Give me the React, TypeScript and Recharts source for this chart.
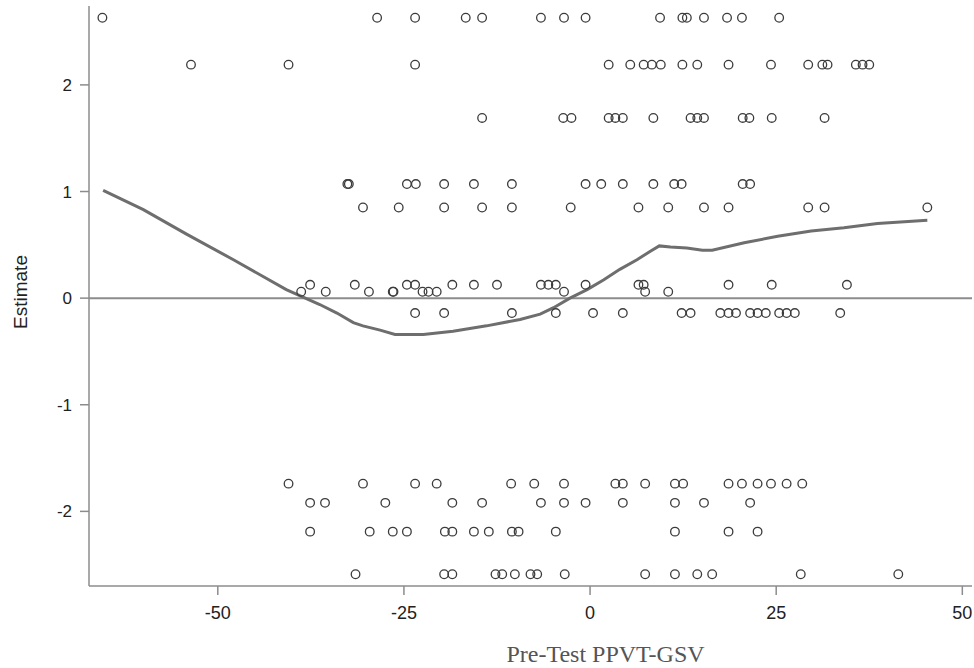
import { ReferenceLine, Scatter, ScatterChart, XAxis, YAxis } from 'recharts'

// y level of each row of points, and the x positions found on that row
const rowLevels = [2.63, 2.19, 1.69, 1.07, 0.85, 0.125, 0.06, -0.14, -1.74, -1.92, -2.19, -2.59]

const rowA = [-65.5, -28.6, -23.5, -16.7, -14.5, -6.6, -3.5, -0.6, 9.4, 12.4, 13.0, 15.3, 18.4, 20.4, 25.4]
const rowB = [-53.6, -40.5, -23.5, 2.5, 5.4, 7.2, 8.3, 9.5, 12.4, 14.4, 18.6, 24.3, 29.3, 31.2, 31.9, 35.7, 36.6, 37.5]
const rowC = [-14.5, -3.6, -2.5, 2.5, 3.4, 4.4, 8.5, 13.5, 14.4, 15.3, 20.5, 21.4, 24.4, 31.5]
const rowD = [-32.6, -32.4, -24.6, -23.4, -19.6, -15.6, -10.5, -0.6, 1.5, 4.4, 8.5, 11.3, 12.3, 20.5, 21.5]
const rowE = [-30.5, -25.7, -19.6, -14.5, -10.5, -2.6, 6.5, 10.5, 15.3, 18.6, 29.3, 31.5, 45.3]
const rowF = [-37.6, -31.6, -24.6, -23.5, -18.5, -15.6, -12.5, -6.6, -5.6, -4.6, -0.6, 6.5, 7.2, 18.6, 24.4, 34.5]
const rowG = [-38.8, -35.5, -29.7, -26.5, -26.4, -22.5, -21.7, -20.6, -3.5, 7.4, 10.5]
const rowH = [-23.5, -19.6, -10.5, -4.6, 0.4, 4.4, 12.3, 13.5, 17.5, 18.6, 19.6, 21.5, 22.5, 23.6, 25.4, 26.4, 27.5, 33.6]
const rowI = [-40.5, -30.5, -23.5, -20.6, -10.6, -7.5, -3.5, 3.4, 4.4, 7.4, 11.4, 12.5, 18.6, 20.4, 22.5, 24.3, 26.4, 28.5]
const rowJ = [-37.6, -35.6, -27.5, -18.5, -14.5, -6.6, -3.5, -0.6, 4.4, 11.4, 15.3, 21.5]
const rowK = [-37.6, -29.6, -26.5, -24.6, -19.5, -18.5, -15.6, -13.6, -10.5, -9.6, -4.6, 11.4, 18.6, 22.5]
const rowL = [-31.5, -19.6, -18.5, -12.7, -11.8, -10.1, -8.0, -7.1, -3.4, 7.4, 11.4, 14.4, 16.4, 28.3, 41.4]

const rows = [rowA, rowB, rowC, rowD, rowE, rowF, rowG, rowH, rowI, rowJ, rowK, rowL]

// fit line
const fitX = [-65.4, -60.0, -54.2, -47.9, -40.8, -36.3, -34.0, -31.8, -30.5, -28.2, -26.2, -22.4, -18.4, -13.9, -9.4, -6.7, -4.9, -2.7, -0.4, 1.8, 4.0, 6.3, 8.1, 9.3, 10.8, 13.0, 15.1, 16.4, 20.7, 25.2, 29.7, 34.1, 38.6, 45.3]
const fitY = [1.01, 0.83, 0.6, 0.36, 0.08, -0.06, -0.14, -0.23, -0.26, -0.3, -0.34, -0.34, -0.31, -0.26, -0.2, -0.15, -0.09, 0.0, 0.08, 0.17, 0.27, 0.36, 0.44, 0.49, 0.48, 0.47, 0.45, 0.45, 0.52, 0.58, 0.63, 0.66, 0.7, 0.73]

const xTicks = [-50, -25, 0, 25, 50]
const yTicks = [-2, -1, 0, 1, 2]

const points = rows.flatMap((xs, i) => xs.map((x) => ({ x, y: rowLevels[i] })))
const fit = fitX.map((x, i) => ({ x, y: fitY[i] }))

const AXIS = '#8c8c8c'
const tickFont = { fontFamily: '"Liberation Sans", Arial, sans-serif', fill: '#222' }

const OpenDot = (props: any) => (
  <circle cx={props.cx} cy={props.cy} r={4.3} fill="none" stroke="#3c3c3c" strokeWidth={1.3} />
)

export default function App() {
  return (
    <div style={{ position: 'absolute', left: 0, top: 0, background: '#fff' }}>
      <ScatterChart width={974} height={668} margin={{ top: 6, right: 2, bottom: 0, left: 0 }}>
        <XAxis
          type="number"
          dataKey="x"
          domain={[-67.3, 51.3]}
          ticks={xTicks}
          allowDataOverflow
          height={82}
          tickSize={9}
          tickMargin={11}
          stroke={AXIS}
          strokeWidth={1.5}
          tick={{ ...tickFont, fontSize: 18 }}
          label={{
            value: 'Pre-Test PPVT-GSV',
            position: 'insideBottom',
            offset: 6,
            dx: 75,
            style: { fontFamily: '"Liberation Serif", "Times New Roman", serif', fontSize: 24, fill: '#555' },
          }}
        />
        <YAxis
          type="number"
          dataKey="y"
          domain={[-2.7, 2.74]}
          ticks={yTicks}
          allowDataOverflow
          width={89}
          tickSize={9}
          tickMargin={8}
          stroke={AXIS}
          strokeWidth={1.5}
          tick={{ ...tickFont, fontSize: 17 }}
          label={{
            value: 'Estimate',
            angle: -90,
            position: 'insideLeft',
            offset: 20,
            dy: -4,
            style: { textAnchor: 'middle', fontFamily: '"Liberation Sans", Arial, sans-serif', fontSize: 19, fill: '#222' },
          }}
        />
        <ReferenceLine y={0} stroke={AXIS} strokeWidth={2} />
        <Scatter
          data={fit}
          line={{ stroke: '#6e6e6e', strokeWidth: 3 }}
          shape={() => <g />}
          isAnimationActive={false}
          legendType="none"
        />
        <Scatter data={points} shape={OpenDot} isAnimationActive={false} />
      </ScatterChart>
    </div>
  )
}
